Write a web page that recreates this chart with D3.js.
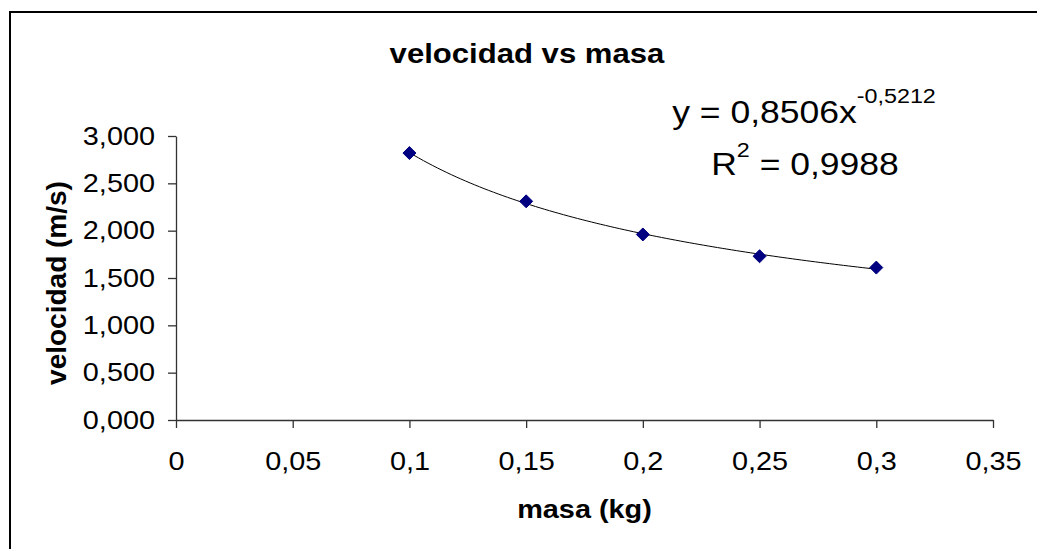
<!DOCTYPE html>
<html>
<head>
<meta charset="utf-8">
<script src="https://cdn.jsdelivr.net/npm/d3@7"></script>
<style>
  body { margin: 0; background: #fff; }
  svg { display: block; font-family: "Liberation Sans", Arial, sans-serif; }
  .wide { transform-box: fill-box; transform: scaleX(1.11); }
  .y-axis text { transform-origin: right center; }
  .x-axis text, .centered { transform-origin: center center; }
</style>
</head>
<body>
<svg id="chart"></svg>
<script>
// data
var masa = [0.1, 0.15, 0.2, 0.25, 0.3];
var velocidad = [2.82, 2.31, 1.96, 1.73, 1.61];
var xTicks = [0, 0.05, 0.1, 0.15, 0.2, 0.25, 0.3, 0.35];
var yTicks = [0, 0.5, 1, 1.5, 2, 2.5, 3];
// power trendline shown on the chart
var fitA = 0.8506, fitB = -0.5212;

var width = 1037, height = 549;
var margin = { top: 136, right: 44, bottom: 129, left: 176 };

var svg = d3.select('#chart')
    .attr('width', width)
    .attr('height', height);

// chart area border (runs off the right and bottom of the picture)
svg.append('rect')
    .attr('x', 10).attr('y', 12)
    .attr('width', 1100).attr('height', 600)
    .attr('fill', '#fff')
    .attr('stroke', '#000')
    .attr('stroke-width', 2);

var x = d3.scaleLinear()
    .domain([0, 0.35])
    .range([margin.left, width - margin.right]);

var y = d3.scaleLinear()
    .domain([0, 3])
    .range([height - margin.bottom, margin.top]);

var es = d3.formatLocale({ decimal: ',', thousands: '.', grouping: [3], currency: ['', ''] });

var axisColor = '#333';

// y axis
var gy = svg.append('g')
    .attr('class', 'y-axis')
    .attr('transform', 'translate(' + margin.left + ',0)')
    .call(d3.axisLeft(y)
        .tickValues(yTicks)
        .tickFormat(es.format('.3f'))
        .tickSize(8)
        .tickSizeOuter(0)
        .tickPadding(13));

// x axis
var gx = svg.append('g')
    .attr('class', 'x-axis')
    .attr('transform', 'translate(0,' + (height - margin.bottom) + ')')
    .call(d3.axisBottom(x)
        .tickValues(xTicks)
        .tickFormat(es.format('.2~f'))
        .tickSize(8)
        .tickSizeOuter(0)
        .tickPadding(24));

[gx, gy].forEach(function (g) {
    g.select('.domain').attr('stroke', axisColor).attr('stroke-width', 1.3);
    g.selectAll('.tick line').attr('stroke', axisColor).attr('stroke-width', 1.3);
    g.selectAll('.tick text')
        .attr('class', 'wide')
        .attr('fill', '#000')
        .style('font-family', '"Liberation Sans", Arial, sans-serif')
        .style('font-size', '26px');
});

// trendline
var fitLine = d3.range(masa[0], masa[masa.length - 1] + 0.0005, 0.002)
    .map(function (m) { return [m, fitA * Math.pow(m, fitB)]; });

svg.append('path')
    .datum(fitLine)
    .attr('fill', 'none')
    .attr('stroke', '#000')
    .attr('stroke-width', 1)
    .attr('d', d3.line()
        .x(function (d) { return x(d[0]); })
        .y(function (d) { return y(d[1]); }));

// markers
var r = 6.5;
svg.append('g')
    .selectAll('path')
    .data(masa)
    .enter().append('path')
    .attr('transform', function (d, i) {
        return 'translate(' + x(d) + ',' + y(velocidad[i]) + ')';
    })
    .attr('d', 'M0,' + (-r) + 'L' + r + ',0L0,' + r + 'L' + (-r) + ',0Z')
    .attr('fill', '#000080')
    .attr('stroke', '#000080')
    .attr('stroke-width', 1);

// title
svg.append('text')
    .attr('class', 'wide centered')
    .attr('x', 527).attr('y', 63)
    .attr('text-anchor', 'middle')
    .style('font-size', '28px')
    .style('font-weight', 'bold')
    .text('velocidad vs masa');

// axis titles
svg.append('text')
    .attr('class', 'wide centered')
    .attr('x', (x.range()[0] + x.range()[1]) / 2).attr('y', 518)
    .attr('text-anchor', 'middle')
    .style('font-size', '26px')
    .style('font-weight', 'bold')
    .text('masa (kg)');

svg.append('text')
    .attr('transform', 'translate(66,' + ((y.range()[0] + y.range()[1]) / 2 + 5) + ') rotate(-90)')
    .attr('text-anchor', 'middle')
    .style('font-size', '28px')
    .style('font-weight', 'bold')
    .text('velocidad (m/s)');

// trendline equation
var eq = svg.append('text')
    .attr('class', 'wide centered')
    .attr('x', 804).attr('y', 123)
    .attr('text-anchor', 'middle')
    .style('font-size', '32px');
eq.append('tspan').text('y = 0,8506x');
eq.append('tspan').attr('dy', -20).style('font-size', '21px').text('-0,5212');

var r2 = svg.append('text')
    .attr('class', 'wide centered')
    .attr('x', 805).attr('y', 175)
    .attr('text-anchor', 'middle')
    .style('font-size', '32px');
r2.append('tspan').text('R');
r2.append('tspan').attr('dy', -18).style('font-size', '21px').text('2');
r2.append('tspan').attr('dy', 18).text(' = 0,9988');
</script>
</body>
</html>
